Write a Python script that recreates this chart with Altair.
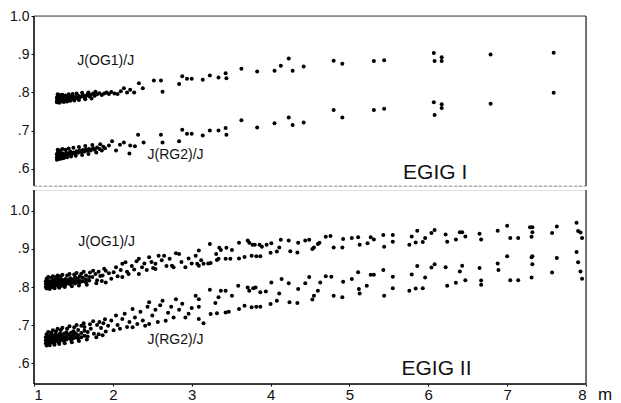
import altair as alt
import pandas as pd

# ---------------- data ----------------
x_ticks = [1, 2, 3, 4, 5, 6, 7, 8]
y_ticks = [0.6, 0.7, 0.8, 0.9, 1.0]

# EGIG I : J(OG1)/J  (m, ratio)
egig1_og1 = [
    (1.29, 0.778), (1.29, 0.786), (1.30, 0.782), (1.30, 0.790), (1.31, 0.775), (1.31, 0.784),
    (1.32, 0.780), (1.32, 0.788), (1.33, 0.783), (1.34, 0.778), (1.34, 0.787), (1.35, 0.782),
    (1.36, 0.785), (1.37, 0.780), (1.38, 0.787), (1.39, 0.783), (1.40, 0.779), (1.41, 0.786),
    (1.42, 0.783), (1.44, 0.788), (1.45, 0.782), (1.47, 0.786), (1.48, 0.790), (1.50, 0.784),
    (1.52, 0.788), (1.54, 0.785), (1.56, 0.791), (1.58, 0.787), (1.60, 0.789), (1.62, 0.793),
    (1.64, 0.787), (1.66, 0.791), (1.68, 0.795), (1.70, 0.790), (1.72, 0.793), (1.75, 0.797),
    (1.77, 0.791), (1.80, 0.795), (1.83, 0.798), (1.86, 0.793), (1.89, 0.797), (1.92, 0.800),
    (1.95, 0.796), (1.98, 0.801), (2.02, 0.797), (2.06, 0.796), (2.10, 0.803), (2.14, 0.811),
    (2.18, 0.800), (2.22, 0.807), (2.27, 0.800),
    (1.29, 0.774), (1.30, 0.795), (1.32, 0.773), (1.33, 0.793), (1.35, 0.776), (1.36, 0.794),
    (1.38, 0.775), (1.40, 0.792), (1.42, 0.776), (1.44, 0.795), (1.46, 0.778), (1.49, 0.796),
    (1.51, 0.779), (1.54, 0.797), (1.57, 0.780), (1.61, 0.799), (1.65, 0.782), (1.69, 0.800),
    (1.73, 0.784), (1.78, 0.802),
    (2.33, 0.824), (2.38, 0.811), (2.52, 0.831), (2.61, 0.831), (2.63, 0.802), (2.84, 0.822),
    (2.88, 0.842), (2.94, 0.836), (3.00, 0.836), (3.14, 0.833), (3.23, 0.844), (3.34, 0.839),
    (3.43, 0.850), (3.44, 0.837), (3.63, 0.862), (3.83, 0.855), (4.05, 0.857), (4.13, 0.870),
    (4.23, 0.889), (4.28, 0.857), (4.42, 0.868), (4.80, 0.883), (4.91, 0.875), (5.31, 0.882),
    (5.44, 0.884), (6.07, 0.903), (6.08, 0.882), (6.17, 0.892), (6.17, 0.882), (6.79, 0.899),
    (7.59, 0.904),
]

# EGIG I : J(RG2)/J
egig1_rg2 = [
    (1.29, 0.630), (1.29, 0.638), (1.30, 0.634), (1.30, 0.642), (1.31, 0.627), (1.31, 0.636),
    (1.32, 0.632), (1.33, 0.640), (1.34, 0.630), (1.34, 0.637), (1.35, 0.634), (1.36, 0.641),
    (1.37, 0.633), (1.38, 0.638), (1.40, 0.635), (1.41, 0.642), (1.43, 0.637), (1.45, 0.640),
    (1.46, 0.645), (1.48, 0.638), (1.50, 0.643), (1.52, 0.640), (1.54, 0.646), (1.56, 0.642),
    (1.58, 0.648), (1.60, 0.644), (1.62, 0.649), (1.64, 0.645), (1.66, 0.651), (1.68, 0.647),
    (1.70, 0.652), (1.72, 0.648), (1.75, 0.654), (1.77, 0.650), (1.80, 0.656), (1.83, 0.652),
    (1.86, 0.648), (1.88, 0.658), (1.90, 0.654), (1.95, 0.661), (1.99, 0.672), (2.04, 0.648),
    (2.09, 0.663), (2.14, 0.669), (2.21, 0.640), (2.22, 0.661), (2.28, 0.659),
    (1.29, 0.624), (1.30, 0.650), (1.32, 0.626), (1.33, 0.648), (1.35, 0.627), (1.36, 0.652),
    (1.38, 0.628), (1.40, 0.650), (1.42, 0.630), (1.44, 0.653), (1.47, 0.632), (1.50, 0.655),
    (1.53, 0.634), (1.57, 0.657), (1.61, 0.636), (1.65, 0.660), (1.69, 0.639), (1.74, 0.662),
    (1.79, 0.643), (1.84, 0.664),
    (2.32, 0.689), (2.39, 0.669), (2.61, 0.689), (2.63, 0.669), (2.84, 0.672), (2.88, 0.702),
    (2.94, 0.692), (3.00, 0.692), (3.14, 0.687), (3.23, 0.700), (3.34, 0.700), (3.43, 0.707),
    (3.44, 0.689), (3.63, 0.727), (3.83, 0.708), (4.05, 0.719), (4.23, 0.734), (4.28, 0.715),
    (4.42, 0.721), (4.80, 0.754), (4.91, 0.734), (5.31, 0.754), (5.44, 0.757), (6.07, 0.774),
    (6.08, 0.741), (6.17, 0.769), (6.17, 0.759), (6.79, 0.770), (7.59, 0.799),
]

# EGIG II : J(OG1)/J
egig2_og1 = [
    (1.15, 0.800), (1.15, 0.808), (1.15, 0.815), (1.17, 0.804), (1.17, 0.811), (1.19, 0.799),
    (1.19, 0.807), (1.19, 0.816), (1.21, 0.803), (1.21, 0.812), (1.23, 0.806), (1.23, 0.815),
    (1.23, 0.800), (1.25, 0.809), (1.25, 0.818), (1.27, 0.803), (1.27, 0.812), (1.27, 0.820),
    (1.29, 0.807), (1.29, 0.816), (1.31, 0.802), (1.31, 0.811), (1.31, 0.821), (1.33, 0.806),
    (1.33, 0.815), (1.35, 0.810), (1.35, 0.819), (1.35, 0.803), (1.37, 0.808), (1.37, 0.817),
    (1.40, 0.812), (1.40, 0.821), (1.40, 0.806), (1.43, 0.810), (1.43, 0.818), (1.46, 0.814),
    (1.46, 0.823), (1.46, 0.807), (1.49, 0.812), (1.49, 0.820), (1.52, 0.816), (1.52, 0.826),
    (1.52, 0.809), (1.55, 0.813), (1.55, 0.822), (1.58, 0.818), (1.58, 0.828), (1.58, 0.811),
    (1.62, 0.815), (1.62, 0.824), (1.66, 0.820), (1.66, 0.830), (1.66, 0.812), (1.70, 0.817),
    (1.70, 0.826),
    (1.16, 0.796), (1.16, 0.822), (1.18, 0.826), (1.20, 0.795), (1.22, 0.824), (1.24, 0.828),
    (1.26, 0.797), (1.28, 0.826), (1.30, 0.830), (1.32, 0.798), (1.34, 0.828), (1.36, 0.832),
    (1.39, 0.800), (1.42, 0.830), (1.45, 0.834), (1.48, 0.802), (1.51, 0.833), (1.54, 0.837),
    (1.57, 0.804), (1.60, 0.835), (1.63, 0.840), (1.67, 0.806), (1.71, 0.838), (1.75, 0.843),
    (1.79, 0.810), (1.82, 0.840), (1.86, 0.816), (1.89, 0.848),
    (1.74, 0.826), (1.78, 0.834), (1.80, 0.818), (1.84, 0.829), (1.87, 0.830), (1.91, 0.843),
    (1.91, 0.812), (1.95, 0.836), (1.98, 0.822), (2.01, 0.839), (2.04, 0.852), (2.06, 0.828),
    (2.10, 0.845), (2.12, 0.861), (2.12, 0.826), (2.16, 0.865), (2.18, 0.840), (2.20, 0.834),
    (2.24, 0.855), (2.27, 0.846), (2.30, 0.868), (2.33, 0.834), (2.33, 0.874), (2.37, 0.852),
    (2.40, 0.862), (2.43, 0.845), (2.46, 0.878), (2.49, 0.866), (2.51, 0.850), (2.54, 0.861),
    (2.54, 0.847), (2.58, 0.882), (2.62, 0.870), (2.65, 0.882), (2.68, 0.855), (2.72, 0.874),
    (2.75, 0.856), (2.77, 0.852), (2.80, 0.889), (2.84, 0.887), (2.87, 0.866), (2.92, 0.852),
    (2.96, 0.875), (3.00, 0.862), (3.05, 0.882), (3.07, 0.861), (3.09, 0.896), (3.09, 0.856),
    (3.12, 0.870), (3.15, 0.861), (3.21, 0.862),
    (3.23, 0.913), (3.24, 0.863), (3.31, 0.887), (3.32, 0.871), (3.34, 0.874), (3.35, 0.903),
    (3.37, 0.897), (3.43, 0.874), (3.44, 0.903), (3.49, 0.874), (3.51, 0.897), (3.60, 0.916),
    (3.60, 0.875), (3.67, 0.879), (3.71, 0.922), (3.73, 0.916), (3.76, 0.882), (3.77, 0.911),
    (3.80, 0.911), (3.82, 0.881), (3.86, 0.911), (3.87, 0.881), (3.89, 0.906), (3.95, 0.911),
    (4.00, 0.890), (4.01, 0.915), (4.08, 0.893), (4.11, 0.904), (4.13, 0.924), (4.23, 0.922),
    (4.25, 0.894), (4.34, 0.891), (4.35, 0.916), (4.44, 0.922), (4.49, 0.924), (4.53, 0.900),
    (4.55, 0.904), (4.60, 0.913), (4.62, 0.916), (4.70, 0.932), (4.76, 0.934), (4.80, 0.904),
    (4.91, 0.904), (4.92, 0.926), (5.03, 0.929), (5.11, 0.931), (5.13, 0.911), (5.23, 0.915),
    (5.27, 0.931), (5.31, 0.925), (5.43, 0.937), (5.44, 0.906), (5.55, 0.937), (5.55, 0.919),
    (5.76, 0.911), (5.79, 0.933), (5.84, 0.917), (5.86, 0.948), (5.93, 0.918), (5.96, 0.929),
    (6.04, 0.942), (6.08, 0.950), (6.22, 0.938), (6.24, 0.919), (6.35, 0.925), (6.40, 0.944),
    (6.43, 0.944), (6.47, 0.933), (6.65, 0.940), (6.67, 0.925), (6.88, 0.948), (7.00, 0.961),
    (7.04, 0.929), (7.14, 0.929), (7.29, 0.957), (7.32, 0.957), (7.32, 0.944), (7.31, 0.932),
    (7.57, 0.942), (7.63, 0.959), (7.88, 0.969), (7.90, 0.947), (7.93, 0.943), (7.95, 0.929),
]

# EGIG II : J(RG2)/J
egig2_rg2 = [
    (1.15, 0.652), (1.15, 0.660), (1.15, 0.668), (1.17, 0.656), (1.17, 0.664), (1.19, 0.651),
    (1.19, 0.659), (1.19, 0.670), (1.21, 0.655), (1.21, 0.664), (1.21, 0.673), (1.23, 0.658),
    (1.23, 0.667), (1.25, 0.653), (1.25, 0.662), (1.25, 0.672), (1.27, 0.657), (1.27, 0.666),
    (1.27, 0.676), (1.29, 0.660), (1.29, 0.670), (1.31, 0.655), (1.31, 0.664), (1.31, 0.674),
    (1.33, 0.659), (1.33, 0.668), (1.33, 0.678), (1.35, 0.662), (1.35, 0.672), (1.38, 0.658),
    (1.38, 0.667), (1.38, 0.677), (1.41, 0.662), (1.41, 0.671), (1.41, 0.681), (1.44, 0.665),
    (1.44, 0.675), (1.47, 0.661), (1.47, 0.670), (1.47, 0.680), (1.50, 0.665), (1.50, 0.674),
    (1.50, 0.684), (1.53, 0.668), (1.53, 0.678), (1.56, 0.664), (1.56, 0.673), (1.56, 0.687),
    (1.60, 0.668), (1.60, 0.679), (1.64, 0.672), (1.64, 0.685), (1.64, 0.695), (1.68, 0.670),
    (1.68, 0.682),
    (1.16, 0.646), (1.16, 0.676), (1.18, 0.682), (1.20, 0.647), (1.22, 0.680), (1.24, 0.686),
    (1.26, 0.648), (1.28, 0.684), (1.30, 0.690), (1.32, 0.650), (1.34, 0.687), (1.36, 0.693),
    (1.39, 0.652), (1.42, 0.690), (1.45, 0.697), (1.48, 0.655), (1.51, 0.694), (1.54, 0.700),
    (1.57, 0.658), (1.60, 0.698), (1.63, 0.705), (1.67, 0.662), (1.71, 0.702), (1.75, 0.710),
    (1.79, 0.668), (1.83, 0.708), (1.87, 0.673), (1.90, 0.715),
    (1.72, 0.690), (1.76, 0.677), (1.80, 0.700), (1.82, 0.676), (1.85, 0.692), (1.88, 0.705),
    (1.91, 0.683), (1.94, 0.698), (1.98, 0.712), (2.01, 0.686), (2.04, 0.725), (2.06, 0.700),
    (2.09, 0.690), (2.12, 0.716), (2.15, 0.730), (2.18, 0.695), (2.21, 0.708), (2.25, 0.742),
    (2.25, 0.694), (2.28, 0.720), (2.31, 0.703), (2.35, 0.735), (2.38, 0.712), (2.41, 0.698),
    (2.44, 0.748), (2.46, 0.760), (2.46, 0.703), (2.50, 0.725), (2.54, 0.740), (2.57, 0.708),
    (2.60, 0.752), (2.63, 0.764), (2.67, 0.711), (2.70, 0.732), (2.74, 0.748), (2.77, 0.720),
    (2.80, 0.768), (2.84, 0.740), (2.88, 0.756), (2.92, 0.720), (2.96, 0.730), (3.00, 0.745),
    (3.05, 0.777), (3.09, 0.716), (3.09, 0.748), (3.09, 0.768), (3.15, 0.705),
    (3.23, 0.793), (3.24, 0.729), (3.30, 0.758), (3.32, 0.731), (3.34, 0.773), (3.37, 0.790),
    (3.43, 0.790), (3.43, 0.733), (3.47, 0.735), (3.51, 0.777), (3.59, 0.803), (3.60, 0.742),
    (3.67, 0.751), (3.71, 0.799), (3.73, 0.790), (3.76, 0.747), (3.78, 0.797), (3.81, 0.799),
    (3.82, 0.748), (3.87, 0.786), (3.87, 0.748), (3.94, 0.788), (4.00, 0.755), (4.01, 0.812),
    (4.08, 0.764), (4.11, 0.783), (4.14, 0.821), (4.23, 0.810), (4.24, 0.760), (4.34, 0.758),
    (4.35, 0.795), (4.44, 0.810), (4.49, 0.826), (4.53, 0.767), (4.55, 0.777), (4.60, 0.790),
    (4.63, 0.812), (4.70, 0.828), (4.77, 0.827), (4.80, 0.777), (4.91, 0.773), (4.92, 0.814),
    (5.03, 0.821), (5.11, 0.839), (5.12, 0.795), (5.13, 0.783), (5.22, 0.803), (5.27, 0.832),
    (5.31, 0.832), (5.43, 0.845), (5.44, 0.777), (5.55, 0.827), (5.55, 0.797),
    (5.76, 0.790), (5.79, 0.833), (5.84, 0.796), (5.86, 0.855), (5.93, 0.797), (5.96, 0.825),
    (6.04, 0.851), (6.08, 0.860), (6.22, 0.852), (6.24, 0.803), (6.35, 0.811), (6.40, 0.841),
    (6.43, 0.856), (6.47, 0.818), (6.65, 0.850), (6.67, 0.817), (6.67, 0.806), (6.88, 0.862),
    (6.89, 0.845), (7.00, 0.881), (7.04, 0.818), (7.14, 0.818), (7.31, 0.878), (7.32, 0.881),
    (7.32, 0.860), (7.31, 0.825), (7.57, 0.838), (7.63, 0.876), (7.88, 0.892), (7.90, 0.865),
    (7.93, 0.841), (7.95, 0.822),
]

series_labels = ["J(OG1)/J", "J(RG2)/J"]
panel_labels = ["EGIG I", "EGIG II"]

# ---------------- chart ----------------
W = 552
H1 = 170
H2 = 194
FONT = "Liberation Sans"
one = pd.DataFrame({"k": [0]})

y_label_expr = "datum.value >= 1 ? '1.0' : replace(format(datum.value, '.1f'), '0.', '.')"


def make_panel(og1, rg2, ydom, h, lab_pos, egig_text, egig_pos, show_x):
    df = pd.DataFrame(og1 + rg2, columns=["m", "ratio"])
    if show_x:
        xaxis = alt.Axis(values=x_ticks, title=None, grid=False, domain=False, tickSize=2,
                         tickColor="black", labelFontSize=15, labelFont=FONT,
                         labelColor="#111", labelPadding=1, format="d")
    else:
        xaxis = None
    yaxis = alt.Axis(values=y_ticks, title=None, grid=False, domain=False, tickSize=3,
                     tickColor="black", labelFontSize=14, labelFont=FONT, labelColor="#111",
                     labelPadding=2, labelExpr=y_label_expr, minExtent=25, maxExtent=25)
    xs = alt.Scale(domain=[1, 8], nice=False, zero=False)
    ys = alt.Scale(domain=ydom, nice=False, zero=False)

    pts = alt.Chart(df).mark_circle(size=16, color="black", opacity=1).encode(
        x=alt.X("m:Q", scale=xs, axis=xaxis),
        y=alt.Y("ratio:Q", scale=ys, axis=yaxis),
    )
    layers = [pts]
    for txt, (lx, ly) in zip(series_labels, lab_pos):
        layers.append(
            alt.Chart(one).mark_text(text=txt, align="left", baseline="middle", fontSize=14,
                                     font=FONT, color="#111").encode(
                x=alt.datum(lx, scale=xs), y=alt.datum(ly, scale=ys))
        )
    layers.append(
        alt.Chart(one).mark_text(text=egig_text, align="left", baseline="middle", fontSize=21,
                                 font=FONT, color="#111").encode(
            x=alt.datum(egig_pos[0], scale=xs), y=alt.datum(egig_pos[1], scale=ys))
    )
    # frame
    layers.append(alt.Chart(one).mark_rule(color="black", strokeWidth=1.5).encode(
        x=alt.value(0), y=alt.value(0), y2=alt.value(h)))
    layers.append(alt.Chart(one).mark_rule(color="#222", strokeWidth=1.2).encode(
        x=alt.value(W), y=alt.value(0), y2=alt.value(h)))
    if show_x:
        layers.append(alt.Chart(one).mark_rule(color="black", strokeWidth=1.5).encode(
            x=alt.value(0), x2=alt.value(W), y=alt.value(h)))
        layers.append(alt.Chart(one).mark_text(text="m", align="left", baseline="middle",
                                               fontSize=17, font=FONT, color="#111").encode(
            x=alt.value(W + 12), y=alt.value(h + 11)))
    else:
        layers.append(alt.Chart(one).mark_rule(color="#444", strokeWidth=1).encode(
            x=alt.value(0), x2=alt.value(W), y=alt.value(0)))
        layers.append(alt.Chart(one).mark_rule(color="#999", strokeWidth=1,
                                               strokeDash=[3, 2]).encode(
            x=alt.value(0), x2=alt.value(W), y=alt.value(h)))
    return alt.layer(*layers).properties(width=W, height=h)


upper = make_panel(egig1_og1, egig1_rg2, [0.555, 1.0], H1,
                   [(1.55, 0.883), (2.44, 0.635)], panel_labels[0], (5.68, 0.590), False)
lower = make_panel(egig2_og1, egig2_rg2, [0.545, 1.055], H2,
                   [(1.56, 0.918), (2.44, 0.660)], panel_labels[1], (5.66, 0.584), True)

chart = alt.vconcat(upper, lower, spacing=0).properties(
    padding={"left": 0, "top": 0, "right": 0, "bottom": 0}
).configure_view(stroke=None).configure(background="white")

chart.save("out.html", embed_options={"renderer": "svg", "actions": False})
